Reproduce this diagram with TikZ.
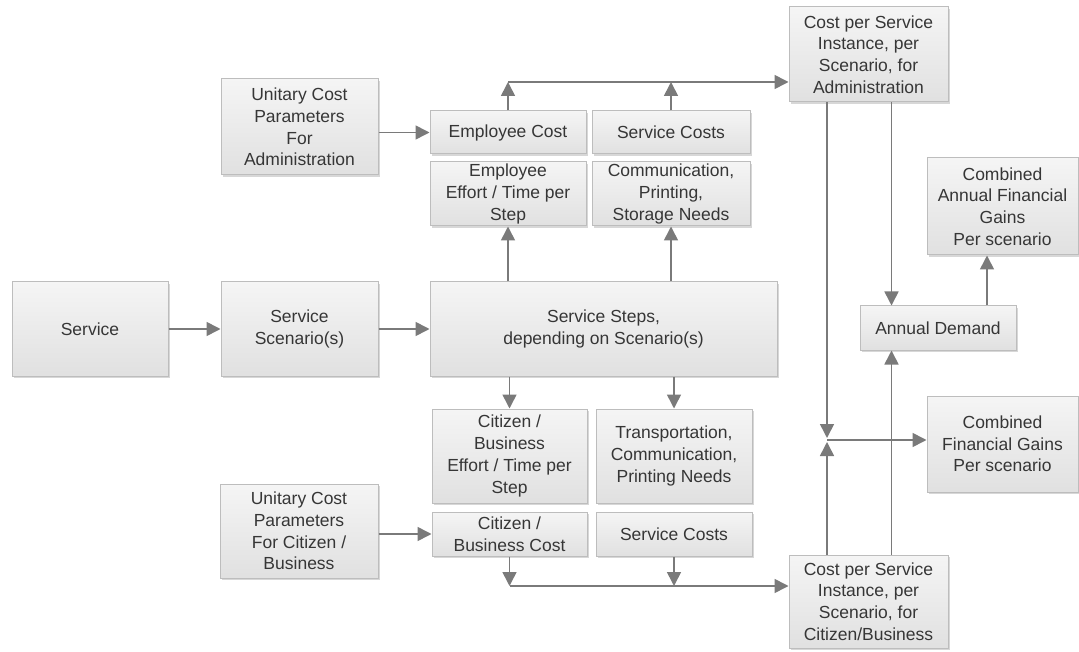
\documentclass[tikz,border=0pt]{standalone}
\usepackage{fontspec}
\setmainfont{Liberation Sans}
\usetikzlibrary{arrows.meta,shadows}
\definecolor{txt}{HTML}{363636}
\definecolor{edge}{HTML}{BDBDBD}
\definecolor{conn}{HTML}{7A7A7A}
\tikzset{
  box/.style={draw=edge, line width=1pt, top color=white!96!black, bottom color=white!88!black,
    align=center, inner sep=2pt, text=txt,
    font=\fontsize{17.5}{21.7}\selectfont,
    drop shadow={shadow xshift=1.5pt, shadow yshift=-2pt, opacity=0.35, fill=black!45}},
  arr/.style={draw=conn, line width=1.6pt, -{Triangle[length=14pt,width=14pt]}},
  bus/.style={draw=conn, line width=1.6pt}
}
\newcommand{\bx}[6]{\node[box, minimum width=#4pt, minimum height=#5pt] (#1) at (#2,#3) {#6};}
\begin{document}
\begin{tikzpicture}[x=1pt,y=-1pt]
\useasboundingbox (0,0) rectangle (1079,652);
% left column
\bx{service}{90}{329}{156}{94}{Service}
\bx{scen}{299.5}{329}{157}{94}{Service\\Scenario(s)}
\bx{steps}{603.5}{329}{347}{94}{Service Steps,\\depending on Scenario(s)}
% administration side
\bx{unitadmin}{299.5}{127}{157}{96}{Unitary Cost\\Parameters\\For\\Administration}
\bx{empcost}{508}{132.5}{156}{43}{Employee Cost}
\bx{servcost}{671}{132.5}{158}{43}{Service Costs}
\bx{empeffort}{508}{194}{156}{64}{Employee\\Effort / Time per\\Step}
\bx{commprint}{671}{194}{158}{64}{Communication,\\Printing,\\Storage Needs}
\bx{admincost}{868.5}{54.5}{159}{95}{Cost per Service\\Instance, per\\Scenario, for\\Administration}
% citizen side
\bx{citeffort}{509.5}{456}{155}{94}{Citizen /\\Business\\Effort / Time per\\Step}
\bx{transport}{674}{456}{156}{94}{Transportation,\\Communication,\\Printing Needs}
\bx{unitcit}{299}{531}{158}{94}{Unitary Cost\\Parameters\\For Citizen /\\Business}
\bx{citcost}{509.5}{534}{155}{44}{Citizen /\\Business Cost}
\bx{servcosttwo}{674}{534}{156}{44}{Service Costs}
\bx{citadmin}{868.5}{601.5}{159}{93}{Cost per Service\\Instance, per\\Scenario, for\\Citizen/Business}
% results
\bx{annual}{938}{328}{156}{44}{Annual Demand}
\bx{combannual}{1002.5}{206.5}{151}{97}{Combined\\Annual Financial\\Gains\\Per scenario}
\bx{combfin}{1002.5}{444}{151}{96}{Combined\\Financial Gains\\Per scenario}
% helper coordinates for buses and the junction
\coordinate (busT) at (789,82);
\coordinate (busB) at (789,586);
\coordinate (j) at (827,440);
\coordinate (da) at (891.5,0);
\coordinate (up) at (987,0);
% main flow
\draw[arr] (service) -- (scen);
\draw[arr] (scen) -- (steps);
\draw[arr] (empeffort.south |- steps.north) -- (empeffort.south);
\draw[arr] (commprint.south |- steps.north) -- (commprint.south);
\draw[arr] (citeffort.north |- steps.south) -- (citeffort.north);
\draw[arr] (transport.north |- steps.south) -- (transport.north);
% unitary parameters
\draw[arr] (unitadmin.east |- empcost.west) -- (empcost.west);
\draw[arr] (unitcit.east |- citcost.west) -- (citcost.west);
% upper bus
\draw[arr] (empcost.north) -- (empcost.north |- busT);
\draw[arr] (servcost.north) -- (servcost.north |- busT);
\draw[arr] (empcost.north |- busT) -- (admincost.west |- busT);
% lower bus
\draw[arr] (citcost.south) -- (citcost.south |- busB);
\draw[arr] (servcosttwo.south) -- (servcosttwo.south |- busB);
\draw[arr] (citcost.south |- busB) -- (citadmin.west |- busB);
% junction and annual demand
\draw[arr, shorten >=2pt] (admincost.south -| j) -- (j);
\draw[arr, shorten >=2pt] (citadmin.north -| j) -- (j);
\draw[arr] (j) -- (j -| combfin.west);
\draw[arr] (admincost.south -| da) -- (annual.north -| da);
\draw[arr] (citadmin.north -| da) -- (annual.south -| da);
\draw[arr] (annual.north -| up) -- (combannual.south -| up);
\end{tikzpicture}
\end{document}
